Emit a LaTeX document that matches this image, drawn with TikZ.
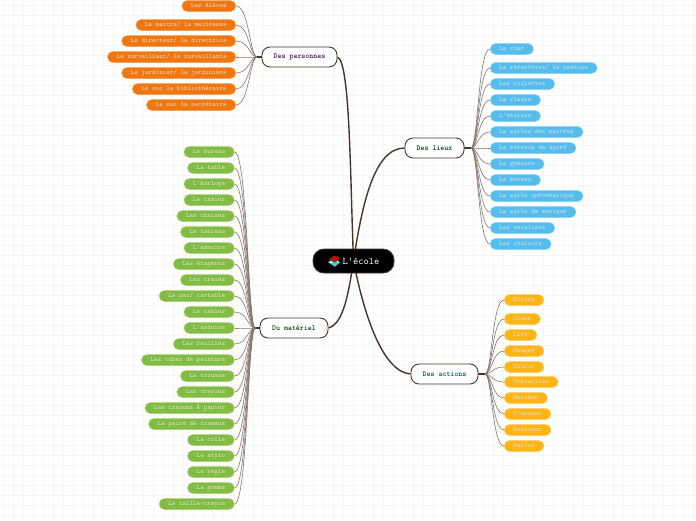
\documentclass[tikz,border=0pt]{standalone}
\usepackage{tikz}
\usetikzlibrary{backgrounds}
\definecolor{branchcol}{HTML}{4A3328}
\definecolor{twigcol}{HTML}{85746A}
\definecolor{gridcol}{HTML}{F6F6F6}
\definecolor{orangecol}{HTML}{F0760F}
\definecolor{bluecol}{HTML}{55BDEE}
\definecolor{yellowcol}{HTML}{FDB415}
\definecolor{greencol}{HTML}{82BC41}
\tikzset{
  leafbox/.style={rounded corners=5.4pt,minimum height=11pt,inner ysep=0pt,inner xsep=9.2pt,text=white!88!black,text height=4.4pt,text depth=1pt,line width=.5pt,font=\fontsize{6.67}{8}\ttfamily},
  perso/.style={leafbox,anchor=east,fill=orangecol,draw=orangecol!70!white},
  lieu/.style={leafbox,anchor=west,fill=bluecol,draw=bluecol!70!white},
  action/.style={leafbox,anchor=west,fill=yellowcol,draw=yellowcol!70!white},
  mater/.style={leafbox,anchor=east,fill=greencol,draw=greencol!70!white},
  mainbox/.style={draw=branchcol,fill=white,line width=.9pt,rounded corners=8pt,minimum height=20pt,inner sep=0pt,font=\fontsize{7.6}{9}\ttfamily\bfseries},
  branch/.style={draw=branchcol,line width=1.4pt},
  stub/.style={draw=branchcol,line width=1.6pt},
  twig/.style={draw=twigcol,line width=.6pt},
  twigleft/.style={to path={.. controls +(-7,0) and +(13,0) .. (\tikztotarget.east)}},
  twigright/.style={to path={.. controls +(7,0) and +(-12,0) .. (\tikztotarget.west)}},
}
\begin{document}
\begin{tikzpicture}[x=1pt,y=-1pt]
\useasboundingbox (0,0) rectangle (696,520);
\node[draw=branchcol,fill=black,line width=.9pt,rounded corners=11pt,minimum width=81pt,minimum height=24pt,inner sep=0pt,text=white,font=\fontsize{10}{12}\ttfamily] (root) at (353.5,261) {\hspace*{15pt}L'école};
% little books
\fill[white!85!blue] (328,262) -- (334,259.5) -- (340,262) -- (335,266.5) -- cycle;
\fill[bluecol] (331,263.5) -- (336,261.5) -- (339,263) -- (334.5,266.5) -- cycle;
\fill[green!60!black] (329,259.5) -- (334,256) -- (339.5,259) -- (335,263) -- cycle;
\fill[red!85!black] (331,258) .. controls (333,255.5) and (338,255.5) .. (339,258) .. controls (339,261) and (335,262) .. (331,260) -- cycle;

\node[mainbox,minimum width=75pt,text=violet!60!black] (persons) at (299.5,57) {Des personnes};
\node[mainbox,minimum width=59pt,text=green!25!black] (places) at (434.5,148) {Des lieux};
\node[mainbox,minimum width=67pt,text=teal!60!black] (actions) at (444.5,374) {Des actions};
\node[mainbox,minimum width=68pt,text=green!25!black] (material) at (294,328) {Du matériel};

\coordinate (hubpers) at (257,57);
\coordinate (hublieu) at (471,148);
\coordinate (hubact) at (485,374);
\coordinate (hubmat) at (255,328);

\node[perso] (p1) at (236,6) {Les élèves};
\node[perso] (p2) at (236,25) {Le maitre/ la maitresse};
\node[perso] (p3) at (236,41) {Le directeur/ la directrice};
\node[perso] (p4) at (236,57) {Le surveillant/ la surveillante};
\node[perso] (p5) at (236,73) {Le jardinier/ la jardinière};
\node[perso] (p6) at (236,89) {Le ouo la bibliothécaire};
\node[perso] (p7) at (236,105) {Le ouo la secrétaire};

\node[lieu] (l1) at (490,49) {La cour};
\node[lieu] (l2) at (490,68) {Le refectoire/ la cantine};
\node[lieu] (l3) at (490,84) {Les toilettes};
\node[lieu] (l4) at (490,100) {La classe};
\node[lieu] (l5) at (490,116) {L'atelier};
\node[lieu] (l6) at (490,132) {La salles des maitres};
\node[lieu] (l7) at (490,148) {Le terrain de sport};
\node[lieu] (l8) at (490,164) {Le gymnase};
\node[lieu] (l9) at (490,180) {Le bureau};
\node[lieu] (l10) at (490,196) {La salle informatique};
\node[lieu] (l11) at (490,212) {La salle de musique};
\node[lieu] (l12) at (490,228) {Les escaliers};
\node[lieu] (l13) at (490,244) {Les couloirs};

\node[action] (a1) at (504,300) {Ecrire};
\node[action] (a2) at (504,319) {Jouer};
\node[action] (a3) at (504,335) {Lire};
\node[action] (a4) at (504,351) {Manger};
\node[action] (a5) at (504,367) {Courir};
\node[action] (a6) at (504,382) {Travailler};
\node[action] (a7) at (504,398) {Marcher};
\node[action] (a8) at (504,414) {S'amuser};
\node[action] (a9) at (504,430) {Dessiner};
\node[action] (a10) at (504,446) {Parler};

\node[mater] (m1) at (234.5,152) {Le bureau};
\node[mater] (m2) at (234.5,168) {La table};
\node[mater] (m3) at (234.5,184) {L'horloge};
\node[mater] (m4) at (234.5,200) {Le casier};
\node[mater] (m5) at (234.5,216) {Les chaises};
\node[mater] (m6) at (234.5,232) {Le tableau};
\node[mater] (m7) at (234.5,248) {L'armoire};
\node[mater] (m8) at (234.5,264) {Les étagères};
\node[mater] (m9) at (234.5,280) {Les craies};
\node[mater] (m10) at (234.5,296) {Le sac/ cartable};
\node[mater] (m11) at (234.5,312) {Le cahier};
\node[mater] (m12) at (234.5,328) {L'ardoise};
\node[mater] (m13) at (234.5,344) {Les feuilles};
\node[mater] (m14) at (234.5,360) {Les tubes de peinture};
\node[mater] (m15) at (234.5,376) {La trousse};
\node[mater] (m16) at (234.5,392) {Les crayons};
\node[mater] (m17) at (234.5,408) {Les crayons À papier};
\node[mater] (m18) at (234.5,424) {La paire de ciseaux};
\node[mater] (m19) at (234.5,440) {La colle};
\node[mater] (m20) at (234.5,456) {Le stylo};
\node[mater] (m21) at (234.5,472) {La règle};
\node[mater] (m22) at (234.5,488) {La gomme};
\node[mater] (m23) at (234.5,504) {Le taille-crayon};

\begin{pgfonlayer}{background}
\draw[gridcol,line width=.8pt,step=10pt,xshift=3.5pt,yshift=-5pt] (-3.5,-5) grid (692.5,515);

\draw[branch] (root.center) .. controls (350,170) and (350,62) .. (persons.east);
\draw[branch] (root.center) .. controls (362,205) and (374,148) .. (places.west);
\draw[branch] (root.center) .. controls (365,320) and (384,372) .. (actions.west);
\draw[branch] (root.center) .. controls (349,290) and (344,324) .. (material.east);

\draw[stub] (persons.west) -- (hubpers);
\draw[stub] (places.east) -- (hublieu);
\draw[stub] (actions.east) -- (hubact);
\draw[stub] (material.west) -- (hubmat);

\draw[twig,twigleft] (hubpers) to (p1);
\draw[twig,twigleft] (hubpers) to (p2);
\draw[twig,twigleft] (hubpers) to (p3);
\draw[twig,twigleft] (hubpers) to (p4);
\draw[twig,twigleft] (hubpers) to (p5);
\draw[twig,twigleft] (hubpers) to (p6);
\draw[twig,twigleft] (hubpers) to (p7);

\draw[twig,twigright] (hublieu) to (l1);
\draw[twig,twigright] (hublieu) to (l2);
\draw[twig,twigright] (hublieu) to (l3);
\draw[twig,twigright] (hublieu) to (l4);
\draw[twig,twigright] (hublieu) to (l5);
\draw[twig,twigright] (hublieu) to (l6);
\draw[twig,twigright] (hublieu) to (l7);
\draw[twig,twigright] (hublieu) to (l8);
\draw[twig,twigright] (hublieu) to (l9);
\draw[twig,twigright] (hublieu) to (l10);
\draw[twig,twigright] (hublieu) to (l11);
\draw[twig,twigright] (hublieu) to (l12);
\draw[twig,twigright] (hublieu) to (l13);

\draw[twig,twigright] (hubact) to (a1);
\draw[twig,twigright] (hubact) to (a2);
\draw[twig,twigright] (hubact) to (a3);
\draw[twig,twigright] (hubact) to (a4);
\draw[twig,twigright] (hubact) to (a5);
\draw[twig,twigright] (hubact) to (a6);
\draw[twig,twigright] (hubact) to (a7);
\draw[twig,twigright] (hubact) to (a8);
\draw[twig,twigright] (hubact) to (a9);
\draw[twig,twigright] (hubact) to (a10);

\draw[twig,twigleft] (hubmat) to (m1);
\draw[twig,twigleft] (hubmat) to (m2);
\draw[twig,twigleft] (hubmat) to (m3);
\draw[twig,twigleft] (hubmat) to (m4);
\draw[twig,twigleft] (hubmat) to (m5);
\draw[twig,twigleft] (hubmat) to (m6);
\draw[twig,twigleft] (hubmat) to (m7);
\draw[twig,twigleft] (hubmat) to (m8);
\draw[twig,twigleft] (hubmat) to (m9);
\draw[twig,twigleft] (hubmat) to (m10);
\draw[twig,twigleft] (hubmat) to (m11);
\draw[twig,twigleft] (hubmat) to (m12);
\draw[twig,twigleft] (hubmat) to (m13);
\draw[twig,twigleft] (hubmat) to (m14);
\draw[twig,twigleft] (hubmat) to (m15);
\draw[twig,twigleft] (hubmat) to (m16);
\draw[twig,twigleft] (hubmat) to (m17);
\draw[twig,twigleft] (hubmat) to (m18);
\draw[twig,twigleft] (hubmat) to (m19);
\draw[twig,twigleft] (hubmat) to (m20);
\draw[twig,twigleft] (hubmat) to (m21);
\draw[twig,twigleft] (hubmat) to (m22);
\draw[twig,twigleft] (hubmat) to (m23);
\end{pgfonlayer}
\end{tikzpicture}
\end{document}
